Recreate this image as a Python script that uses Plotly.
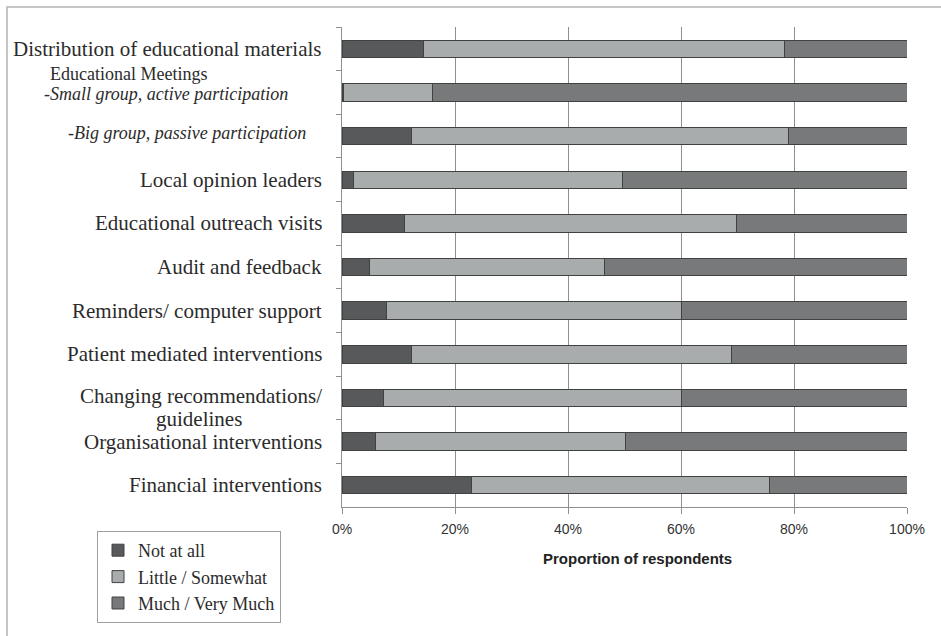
import plotly.graph_objects as go

# ---- data (top to bottom) ----
categories = [
    "Distribution of educational materials",
    "Small group, active participation",
    "Big group, passive participation",
    "Local opinion leaders",
    "Educational outreach visits",
    "Audit and feedback",
    "Reminders/ computer support",
    "Patient mediated interventions",
    "Changing recommendations/ guidelines",
    "Organisational interventions",
    "Financial interventions",
]
not_at_all = [14.4, 0.3, 12.3, 2.1, 11.0, 4.8, 7.9, 12.3, 7.4, 5.9, 23.0]
little_somewhat = [63.9, 15.7, 66.7, 47.5, 58.9, 41.7, 52.2, 56.6, 52.7, 44.2, 52.7]
much_very_much = [21.7, 84.0, 21.0, 50.4, 30.1, 53.5, 39.9, 31.1, 39.9, 49.9, 24.3]
series_names = ["Not at all", "Little / Somewhat", "Much / Very Much"]
x_tick_values = [0, 20, 40, 60, 80, 100]
x_tick_labels = ["0%", "20%", "40%", "60%", "80%", "100%"]
x_title = "Proportion of respondents"

# ---- layout geometry (pixels) ----
W, H = 941, 636
L, R, T, B = 342, 34, 27, 129
PW, PH = W - L - R, H - T - B


def px_x(p):
    return (p - L) / PW


def px_y(p):
    return (H - B - p) / PH


colors = ["#57595a", "#a9acac", "#77797b"]
values = [not_at_all, little_somewhat, much_very_much]

fig = go.Figure()
for name, vals, col in zip(series_names, values, colors):
    fig.add_trace(go.Bar(
        y=categories, x=vals, name=name, orientation="h",
        marker=dict(color=col, line=dict(color="#404242", width=1)),
        width=0.4, legendgroup=name,
    ))

serif = "Liberation Serif"
txt_col = "#2b2b2b"
ann = []
right_x = px_x(324)
for i, c in enumerate(categories):
    if i in (1, 2, 8):
        continue
    ann.append(dict(xref="paper", yref="y", x=right_x, y=c, text=c,
                    xanchor="right", yanchor="middle", showarrow=False,
                    font=dict(family=serif, size=21, color=txt_col)))
# Educational meetings group
ann.append(dict(xref="paper", yref="y", x=px_x(209), y=categories[1],
                text="Educational Meetings", xanchor="right", yanchor="middle",
                yshift=18, showarrow=False,
                font=dict(family=serif, size=18, color=txt_col)))
ann.append(dict(xref="paper", yref="y", x=px_x(290), y=categories[1],
                text="<i>-Small group, active participation</i>", xanchor="right",
                yanchor="middle", yshift=-2, showarrow=False,
                font=dict(family=serif, size=18, color=txt_col)))
ann.append(dict(xref="paper", yref="y", x=px_x(308), y=categories[2],
                text="<i>-Big group, passive participation</i>", xanchor="right",
                yanchor="middle", yshift=3, showarrow=False,
                font=dict(family=serif, size=18, color=txt_col)))
ann.append(dict(xref="paper", yref="y", x=right_x, y=categories[8],
                text="Changing recommendations/", xanchor="right",
                yanchor="middle", yshift=2, showarrow=False,
                font=dict(family=serif, size=21, color=txt_col)))
ann.append(dict(xref="paper", yref="y", x=px_x(199), y=categories[8],
                text="guidelines", xanchor="center",
                yanchor="middle", yshift=-21, showarrow=False,
                font=dict(family=serif, size=21, color=txt_col)))
# x-axis title
ann.append(dict(xref="paper", yref="paper", x=px_x(637), y=px_y(558),
                text="<b>" + x_title + "</b>", xanchor="center", yanchor="middle",
                showarrow=False,
                font=dict(family="Liberation Sans", size=15, color="#222222")))

shapes = [dict(type="rect", xref="paper", yref="paper",
               x0=px_x(7), x1=px_x(1000), y0=px_y(700), y1=px_y(7),
               line=dict(color="#b3b3b3", width=1.5), layer="below")]

fig.update_layout(
    width=W, height=H,
    margin=dict(l=L, r=R, t=T, b=B),
    barmode="stack",
    paper_bgcolor="white", plot_bgcolor="white",
    annotations=ann, shapes=shapes,
    legend=dict(x=px_x(97), y=px_y(531), xanchor="left", yanchor="top",
                traceorder="normal", bordercolor="#a0a0a0", borderwidth=1,
                font=dict(family=serif, size=18, color=txt_col),
                tracegroupgap=0, bgcolor="white"),
    xaxis=dict(range=[0, 100], tickvals=x_tick_values, ticktext=x_tick_labels,
               showgrid=True, gridcolor="#8f8f8f", gridwidth=1,
               showline=True, linecolor="#8f8f8f", linewidth=1,
               ticks="outside", ticklen=6, tickcolor="#8f8f8f",
               ticklabelstandoff=3,
               tickfont=dict(family="Liberation Sans", size=14, color="#333333"),
               zeroline=False, fixedrange=True),
    yaxis=dict(categoryorder="array", categoryarray=categories,
               autorange="reversed", showticklabels=False,
               showline=True, linecolor="#8f8f8f", linewidth=1,
               ticks="outside", ticklen=5, tickcolor="#8f8f8f",
               tickson="boundaries", showgrid=False, fixedrange=True),
)

fig.write_html("out.html")
